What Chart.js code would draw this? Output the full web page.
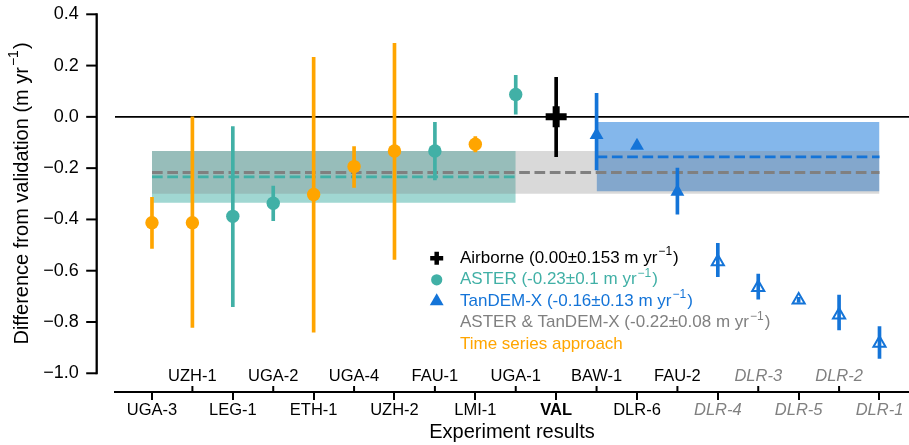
<!DOCTYPE html>
<html>
<head>
<meta charset="utf-8">
<script src="https://cdn.jsdelivr.net/npm/chart.js@4.4.1/dist/chart.umd.min.js"></script>
<style>
  html, body { margin: 0; padding: 0; background: #fff; overflow: hidden; }
  #wrap { width: 909px; height: 445px; }
  canvas { display: block; }
</style>
</head>
<body>
<div id="wrap"><canvas id="chart"></canvas></div>
<script>
'use strict';

// categories along the x axis (even ones printed below the axis, odd ones above)
const categories = ['UGA-3', 'UZH-1', 'LEG-1', 'UGA-2', 'ETH-1', 'UGA-4', 'UZH-2', 'FAU-1', 'LMI-1', 'UGA-1',
                    'VAL', 'BAW-1', 'DLR-6', 'FAU-2', 'DLR-4', 'DLR-3', 'DLR-5', 'DLR-2', 'DLR-1'];
const italicCats = ['DLR-1', 'DLR-2', 'DLR-3', 'DLR-4', 'DLR-5'];
const boldCats   = ['VAL'];

const xMin = -0.915, xMax = 18.73;
const yMin = -1.073, yMax = 0.4;
const yTicks = [-1.0, -0.8, -0.6, -0.4, -0.2, 0.0, 0.2, 0.4];

// time series approach (orange)
const timeCats = ['UGA-3', 'UZH-1', 'ETH-1', 'UGA-4', 'UZH-2', 'LMI-1'];
const timeVals = [-0.413, -0.413, -0.303, -0.194, -0.133, -0.107];
const timeLow  = [-0.513, -0.821, -0.840, -0.275, -0.556, -0.137];
const timeHigh = [-0.314,  0.000,  0.232, -0.116,  0.287, -0.077];

// ASTER (teal)
const asterCats = ['LEG-1', 'UGA-2', 'FAU-1', 'UGA-1'];
const asterVals = [-0.388, -0.337, -0.133, 0.087];
const asterLow  = [-0.740, -0.405, -0.246, 0.011];
const asterHigh = [-0.038, -0.270, -0.021, 0.162];

// airborne validation
const airCats = ['VAL'];
const airVals = [0.0];
const airLow  = [-0.155];
const airHigh = [0.154];

// TanDEM-X filled
const tdxCats = ['BAW-1', 'DLR-6', 'FAU-2'];
const tdxVals = [-0.071, -0.113, -0.292];
const tdxLow  = [-0.207, null, -0.379];
const tdxHigh = [0.092, null, -0.200];

// TanDEM-X DLR (hollow)
const dlrCats = ['DLR-4', 'DLR-3', 'DLR-5', 'DLR-2', 'DLR-1'];
const dlrVals = [-0.565, -0.665, -0.714, -0.773, -0.883];
const dlrLow  = [-0.623, -0.711, -0.724, -0.831, -0.942];
const dlrHigh = [-0.493, -0.613, -0.704, -0.695, -0.818];

// mean +- spread bands
const asterBand = { from: 'UGA-3', to: 'UGA-1', low: -0.335, high: -0.133, mean: -0.234 };
const tdxBand   = { from: 'BAW-1', to: 'DLR-1', low: -0.290, high: -0.020, mean: -0.156 };
const bothBand  = { from: 'UGA-3', to: 'DLR-1', low: -0.300, high: -0.133, mean: -0.217 };

const legendItems = [
  { text: 'Airborne (0.00±0.153 m yr', style: 'cross' },
  { text: 'ASTER (-0.23±0.1 m yr', style: 'circle' },
  { text: 'TanDEM-X (-0.16±0.13 m yr', style: 'triangle' },
  { text: 'ASTER & TanDEM-X (-0.22±0.08 m yr', style: null },
  { text: 'Time series approach', style: null, plain: true }
];

const FONT   = '"Liberation Sans", Arial, sans-serif';
const ORANGE = '#ffa500';
const TEAL   = '#41b0a6';
const BLUE   = '#1474d8';
const GRAY   = '#808080';
const legendColors = ['#000000', TEAL, BLUE, GRAY, ORANGE];

const pos = name => categories.indexOf(name);
const points = (cats, vals) => cats.map((c, i) => ({ x: pos(c), y: vals[i] }));
const errBars = (cats, lo, hi) => cats.map((c, i) => ({ x: pos(c), y: [lo[i], hi[i]] }))
                                      .filter(d => d.y[0] !== null);
const bandLine = (b, y) => [{ x: pos(b.from), y }, { x: pos(b.to), y }];

function bandDs(b, color, order) {
  return { type: 'line', data: bandLine(b, b.high), fill: { value: b.low }, backgroundColor: color,
           borderColor: 'transparent', borderWidth: 0, pointRadius: 0, order };
}
function meanDs(b, color, order) {
  return { type: 'line', data: bandLine(b, b.mean), borderColor: color, borderWidth: 2.8,
           borderDash: [10.7, 4.6], pointRadius: 0, fill: false, order };
}
function errDs(data, color, order) {
  return { type: 'bar', data, backgroundColor: color, borderWidth: 0, barThickness: 3,
           grouped: false, order };
}

const datasets = [
  bandDs(asterBand, 'rgba(65,176,166,0.5)', 30),
  bandDs(tdxBand, 'rgba(20,116,216,0.52)', 29),
  bandDs(bothBand, 'rgba(128,128,128,0.3)', 28),
  meanDs(bothBand, GRAY, 27),
  meanDs(asterBand, TEAL, 26),
  meanDs(tdxBand, BLUE, 25),
  { type: 'line', data: [{ x: xMin, y: 0 }, { x: xMax, y: 0 }], borderColor: '#000', borderWidth: 1.8,
    pointRadius: 0, fill: false, order: 24 },
  errDs(errBars(timeCats, timeLow, timeHigh), ORANGE, 14),
  errDs(errBars(asterCats, asterLow, asterHigh), TEAL, 13),
  errDs(errBars(airCats, airLow, airHigh), '#000', 12),
  errDs(errBars(tdxCats, tdxLow, tdxHigh), BLUE, 11),
  errDs(errBars(dlrCats, dlrLow, dlrHigh), BLUE, 10),
  { type: 'scatter', data: points(timeCats, timeVals), pointStyle: 'circle', pointRadius: 6.7,
    backgroundColor: ORANGE, borderWidth: 0, order: 4 },
  { type: 'scatter', data: points(asterCats, asterVals), pointStyle: 'circle', pointRadius: 6.7,
    backgroundColor: TEAL, borderWidth: 0, order: 3 },
  { type: 'scatter', data: points(airCats, airVals), pointStyle: 'cross', pointRadius: 10.5,
    borderColor: '#000', borderWidth: 7, order: 2 },
  { type: 'scatter', data: points(tdxCats, tdxVals), pointStyle: 'triangle', pointRadius: 8,
    backgroundColor: BLUE, borderWidth: 0, order: 1 },
  { type: 'scatter', data: points(dlrCats, dlrVals), pointStyle: 'triangle', pointRadius: 7,
    backgroundColor: 'rgba(0,0,0,0)', borderColor: BLUE, borderWidth: 2, order: 0 }
];

const isCat = v => Number.isInteger(v) && v >= 0 && v < categories.length;

function catFont(name, size) {
  return { family: FONT, size, style: italicCats.includes(name) ? 'italic' : 'normal',
           weight: boldCats.includes(name) ? 'bold' : 'normal' };
}
const catColor = name => italicCats.includes(name) ? GRAY : '#000';

function supText(ctx, x, y, base, size, color, withSup) {
  ctx.fillStyle = color;
  ctx.font = `${size}px ${FONT}`;
  ctx.fillText(base, x, y);
  if (!withSup) return;
  let w = ctx.measureText(base).width + 1;
  ctx.font = `${Math.round(size * 0.7)}px ${FONT}`;
  ctx.fillText('−1', x + w, y - size * 0.38);
  w += ctx.measureText('−1').width + 1;
  ctx.font = `${size}px ${FONT}`;
  ctx.fillText(')', x + w, y);
}

const decor = {
  id: 'decor',
  afterDraw(chart) {
    const { ctx, scales: { x, y }, chartArea } = chart;
    ctx.save();
    // y spine offset to the left, bounded by the tick range
    const sx = chartArea.left - 18.3;
    ctx.strokeStyle = '#000';
    ctx.lineWidth = 2.3;
    ctx.beginPath();
    ctx.moveTo(sx, y.getPixelForValue(yTicks[yTicks.length - 1]) - 1);
    ctx.lineTo(sx, y.getPixelForValue(yTicks[0]) + 1);
    ctx.stroke();
    ctx.lineWidth = 2;
    yTicks.forEach(v => {
      const py = y.getPixelForValue(v);
      ctx.beginPath();
      ctx.moveTo(sx - 10.5, py);
      ctx.lineTo(sx, py);
      ctx.stroke();
    });
    // odd categories: inward ticks and labels above the axis
    ctx.textAlign = 'center';
    ctx.textBaseline = 'middle';
    categories.forEach((c, i) => {
      if (i % 2 === 0) return;
      const px = x.getPixelForValue(i);
      ctx.strokeStyle = '#000';
      ctx.beginPath();
      ctx.moveTo(px, chartArea.bottom);
      ctx.lineTo(px, chartArea.bottom - 6);
      ctx.stroke();
      const f = catFont(c, 16.5);
      ctx.font = `${f.style} ${f.weight} ${f.size}px ${FONT}`;
      ctx.fillStyle = catColor(c);
      ctx.fillText(c, px, chartArea.bottom - 16);
    });
    // y axis title
    ctx.save();
    ctx.translate(22, 193);
    ctx.rotate(-Math.PI / 2);
    ctx.textAlign = 'left';
    const base = 'Difference from validation (m yr';
    ctx.font = `20px ${FONT}`;
    let w = ctx.measureText(base).width + 2;
    ctx.font = `14px ${FONT}`;
    w += ctx.measureText('−1').width + 1;
    ctx.font = `20px ${FONT}`;
    w += ctx.measureText(')').width;
    supText(ctx, -w / 2, 0, base, 20, '#000', true);
    ctx.restore();
    // legend
    ctx.textAlign = 'left';
    legendItems.forEach((it, i) => {
      const ly = 258.3 + i * 21.5;
      const col = legendColors[i];
      if (it.style && Chart.helpers && Chart.helpers.drawPoint) {
        ctx.fillStyle = col;
        ctx.strokeStyle = col;
        const opts = it.style === 'cross'
          ? { pointStyle: 'cross', radius: 6.5, borderWidth: 4.5, rotation: 0 }
          : it.style === 'circle'
            ? { pointStyle: 'circle', radius: 5.6, borderWidth: 0, rotation: 0 }
            : { pointStyle: 'triangle', radius: 8, borderWidth: 0, rotation: 0 };
        ctx.lineWidth = opts.borderWidth;
        Chart.helpers.drawPoint(ctx, opts, 436.7, ly);
      }
      supText(ctx, 460, ly, it.text, 17, col, !it.plain);
    });
    ctx.restore();
  }
};

const noPad = s => { s.paddingLeft = 0; s.paddingRight = 0; s.paddingTop = 0; s.paddingBottom = 0; };

new Chart(document.getElementById('chart'), {
  type: 'scatter',
  data: { datasets },
  options: {
    responsive: true,
    maintainAspectRatio: false,
    animation: false,
    layout: { autoPadding: false, padding: { top: 14.3, right: 0, bottom: 0, left: 0 } },
    plugins: { legend: { display: false }, tooltip: { enabled: false } },
    scales: {
      x: {
        type: 'linear', min: xMin, max: xMax, offset: false,
        // an unlabeled tick at the right limit keeps the last label from reserving padding
        afterBuildTicks: s => { s.ticks = categories.map((c, i) => ({ value: i })).concat([{ value: xMax }]); },
        afterFit: s => { s.height = 53; noPad(s); },
        border: { display: true, color: '#000', width: 2 },
        grid: {
          offset: false, drawOnChartArea: false, drawTicks: true, tickLength: 8, lineWidth: 2,
          color: ctx => (ctx.tick && isCat(ctx.tick.value) && ctx.tick.value % 2 === 0) ? '#000' : 'rgba(0,0,0,0)'
        },
        ticks: {
          autoSkip: false, maxRotation: 0, minRotation: 0, padding: 1,
          callback: v => (isCat(v) && v % 2 === 0 ? categories[v] : ''),
          font: ctx => catFont(ctx.tick && isCat(ctx.tick.value) ? categories[ctx.tick.value] : '', 16.5),
          color: ctx => catColor(ctx.tick && isCat(ctx.tick.value) ? categories[ctx.tick.value] : '')
        },
        title: { display: true, text: 'Experiment results', color: '#000',
                 font: { family: FONT, size: 20 }, padding: { top: 0, bottom: 1 } }
      },
      y: {
        type: 'linear', min: yMin, max: yMax,
        afterBuildTicks: s => { s.ticks = yTicks.map(v => ({ value: v })); },
        afterFit: s => { s.width = 115; noPad(s); },
        border: { display: false },
        grid: { display: false, drawTicks: false },
        ticks: {
          padding: 36.3, color: '#000', font: { family: FONT, size: 18 },
          callback: v => (v < -1e-9 ? '−' : '') + Math.abs(v).toFixed(1)
        }
      }
    }
  },
  plugins: [decor]
});
</script>
</body>
</html>
